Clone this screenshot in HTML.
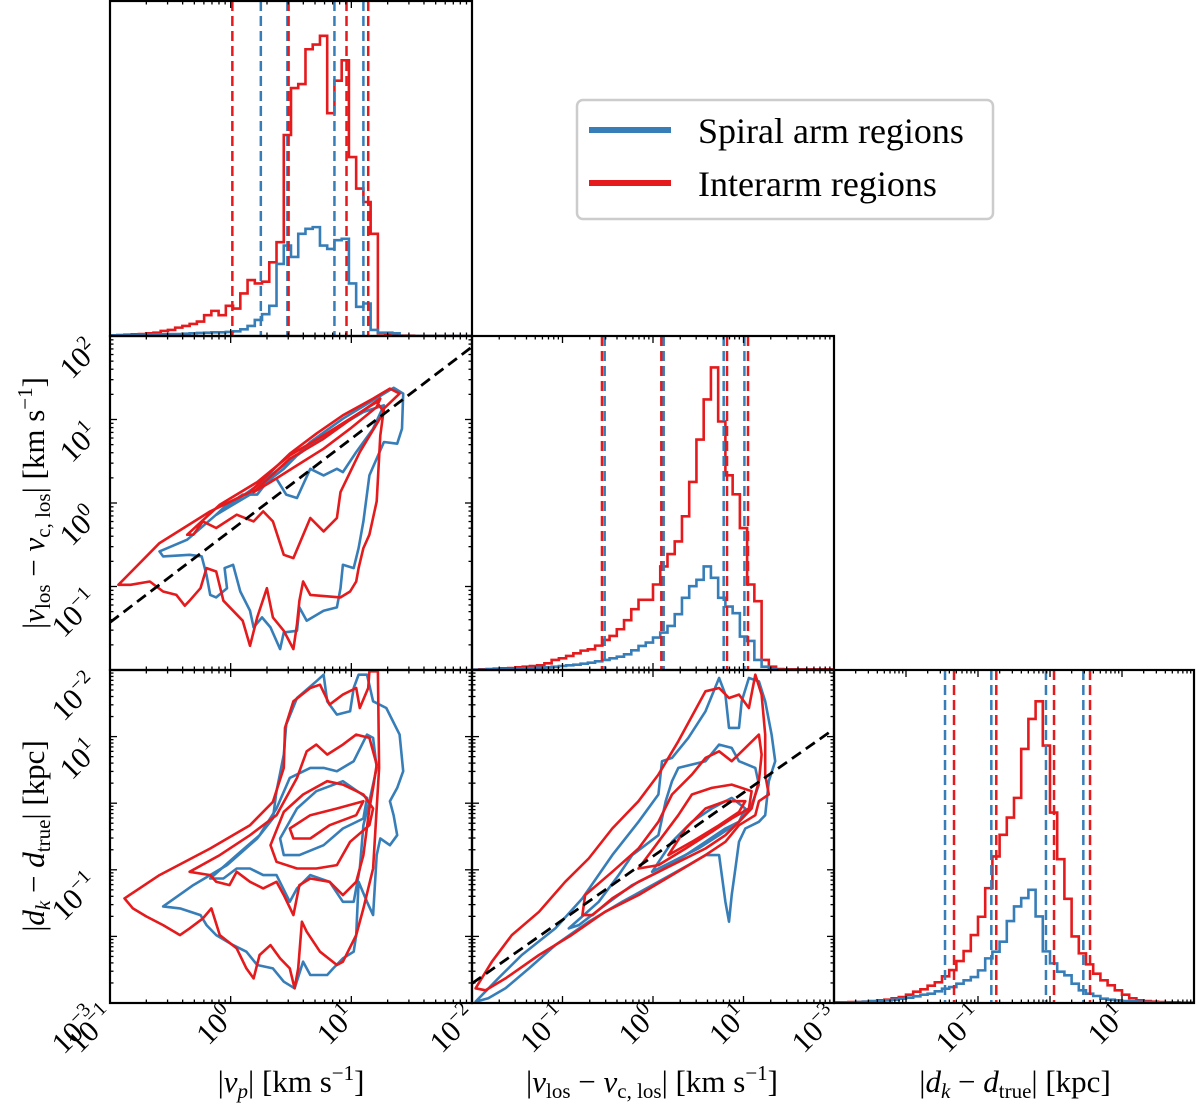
<!DOCTYPE html>
<html><head><meta charset="utf-8">
<style>
html,body{margin:0;padding:0;background:#fff;}
svg{display:block;font-family:"Liberation Serif",serif;}
svg text{font-family:"Liberation Serif",serif;}
</style></head>
<body>
<svg id="chart" width="1200" height="1106" viewBox="0 0 1200 1106" xmlns="http://www.w3.org/2000/svg" font-family="Liberation Serif, serif">
<g id="layer"></g>
<g>
  <rect x="577" y="100" width="416" height="119" rx="6" fill="#fff" stroke="#cccccc" stroke-width="2.5"/>
  <line x1="589" y1="130" x2="671" y2="130" stroke="#377eb8" stroke-width="6"/>
  <text x="698" y="143" font-size="36">Spiral arm regions</text>
  <line x1="589" y1="183" x2="671" y2="183" stroke="#e41a1c" stroke-width="6"/>
  <text x="698" y="196" font-size="36">Interarm regions</text>
</g>
<text x="291" y="1092" font-size="31" text-anchor="middle">|<tspan font-style="italic">v</tspan><tspan font-style="italic" font-size="21" dy="6">p</tspan><tspan dy="-6">| [km s</tspan><tspan font-size="21" dy="-12">−1</tspan><tspan dy="12">]</tspan></text>
<text x="652" y="1092" font-size="31" text-anchor="middle">|<tspan font-style="italic">v</tspan><tspan font-size="21" dy="6">los</tspan><tspan dy="-6"> − </tspan><tspan font-style="italic">v</tspan><tspan font-size="21" dy="6">c, los</tspan><tspan dy="-6">| [km s</tspan><tspan font-size="21" dy="-12">−1</tspan><tspan dy="12">]</tspan></text>
<text x="1015" y="1092" font-size="31" text-anchor="middle">|<tspan font-style="italic">d</tspan><tspan font-style="italic" font-size="21" dy="6">k</tspan><tspan dy="-6"> − </tspan><tspan font-style="italic">d</tspan><tspan font-size="21" dy="6">true</tspan><tspan dy="-6">| [kpc]</tspan></text>
<text transform="translate(44,503) rotate(-90)" font-size="31" text-anchor="middle">|<tspan font-style="italic">v</tspan><tspan font-size="21" dy="6">los</tspan><tspan dy="-6"> − </tspan><tspan font-style="italic">v</tspan><tspan font-size="21" dy="6">c, los</tspan><tspan dy="-6">| [km s</tspan><tspan font-size="21" dy="-12">−1</tspan><tspan dy="12">]</tspan></text>
<text transform="translate(44,836) rotate(-90)" font-size="31" text-anchor="middle">|<tspan font-style="italic">d</tspan><tspan font-style="italic" font-size="21" dy="6">k</tspan><tspan dy="-6"> − </tspan><tspan font-style="italic">d</tspan><tspan font-size="21" dy="6">true</tspan><tspan dy="-6">| [kpc]</tspan></text>
</svg>
<script>
const RED = "#e41a1c", BLUE = "#377eb8";
// ---------- histogram data (log-binned, normalised heights) ----------
const vpBinStart = -1, vpBinWidth = 0.06;
const vpRed = [0.002,0.003,0.004,0.005,0.006,0.008,0.010,0.015,0.018,0.025,0.03,0.036,0.043,0.062,0.075,0.062,0.09,0.082,0.127,0.167,0.157,0.162,0.22,0.28,0.6,0.74,0.752,0.856,0.87,0.896,0.665,0.762,0.823,0.534,0.44,0.4,0.305,0.008,0.004,0.002,0.001,0.001,0,0,0,0,0,0,0,0];
const vpBlue = [0.002,0.002,0.003,0.003,0.004,0.004,0.005,0.005,0.006,0.006,0.007,0.008,0.009,0.01,0.011,0.011,0.012,0.014,0.02,0.03,0.048,0.065,0.09,0.215,0.27,0.236,0.305,0.32,0.325,0.27,0.26,0.286,0.29,0.157,0.087,0.097,0.018,0.01,0.01,0.008,0,0,0,0,0,0,0,0,0,0];
const vpRedQ = [0.014,0.48,0.96,1.14];
const vpBlueQ = [0.25,0.47,0.86,1.10];

const vlBinStart = -2, vlBinWidth = 0.08;
const vlRed = [0.001,0.002,0.003,0.004,0.005,0.006,0.008,0.01,0.012,0.014,0.02,0.03,0.035,0.042,0.05,0.058,0.062,0.073,0.09,0.102,0.122,0.149,0.182,0.21,0.21,0.256,0.31,0.347,0.385,0.46,0.563,0.69,0.81,0.906,0.744,0.583,0.526,0.425,0.256,0.206,0.03,0.01,0.003,0.002,0.002,0.002,0.002,0.002,0.002,0.002];
const vlBlue = [0.001,0.001,0.002,0.002,0.003,0.003,0.004,0.005,0.006,0.007,0.008,0.01,0.012,0.014,0.016,0.019,0.022,0.026,0.03,0.035,0.04,0.047,0.059,0.072,0.082,0.097,0.112,0.132,0.167,0.216,0.251,0.27,0.31,0.276,0.216,0.19,0.17,0.1,0.087,0.03,0.01,0.003,0,0,0,0,0,0,0,0];
const vlRedQ = [-0.564,0.092,0.818,1.05];
const vlBlueQ = [-0.534,0.118,0.781,1.01];

const dkBinStart = -3, dkBinWidth = 0.1;
const dkRed = [0.002,0.002,0.003,0.003,0.004,0.006,0.008,0.01,0.014,0.018,0.025,0.034,0.041,0.052,0.062,0.08,0.099,0.126,0.156,0.204,0.259,0.345,0.44,0.505,0.557,0.616,0.763,0.853,0.906,0.773,0.572,0.432,0.313,0.2,0.149,0.116,0.088,0.068,0.053,0.038,0.025,0.014,0.008,0.006,0.004,0.003,0.002,0.002,0.001,0.001];
const dkBlue = [0.001,0.002,0.002,0.003,0.004,0.005,0.006,0.008,0.01,0.013,0.016,0.02,0.025,0.028,0.035,0.043,0.048,0.058,0.068,0.078,0.098,0.134,0.154,0.184,0.246,0.29,0.315,0.34,0.26,0.155,0.119,0.094,0.083,0.058,0.038,0.028,0.021,0.013,0.01,0.008,0.006,0.005,0.004,0.003,0.002,0.002,0.001,0.001,0.001,0.001];
const dkRedQ = [-1.333,-0.746,0.056,0.556];
const dkBlueQ = [-1.458,-0.815,-0.056,0.463];

// ---------- contour data: [log10 x, log10 y] ----------
const mlRed = [
 [[-0.93,-0.98],[-0.59,-0.48],[-0.17,-0.10],[0.16,0.13],[0.49,0.59],[0.71,0.83],[0.93,1.05],[1.18,1.25],[1.32,1.37],[1.40,1.31],[1.27,1.13],[1.24,0.81],[1.21,0.02],[1.15,-0.38],[1.10,-0.54],[1.06,-0.78],[1.04,-0.94],[0.99,-1.06],[0.91,-1.13],[0.66,-1.10],[0.60,-0.94],[0.57,-1.17],[0.55,-1.45],[0.52,-1.75],[0.44,-1.53],[0.35,-1.37],[0.30,-1.02],[0.22,-1.37],[0.16,-1.71],[0.10,-1.41],[-0.06,-1.17],[-0.12,-0.82],[-0.20,-0.78],[-0.25,-1.02],[-0.34,-1.17],[-0.38,-1.23],[-0.45,-1.10],[-0.56,-1.06],[-0.67,-0.94],[-0.83,-0.98]],
 [[-0.36,-0.38],[-0.09,-0.02],[0.22,0.25],[0.49,0.57],[0.77,0.81],[0.99,1.01],[1.21,1.21],[1.27,1.09],[1.07,0.61],[0.91,0.13],[0.88,-0.18],[0.77,-0.34],[0.66,-0.18],[0.52,-0.66],[0.44,-0.62],[0.35,-0.22],[0.27,-0.10],[0.19,-0.22],[0.05,-0.14],[-0.12,-0.30],[-0.23,-0.22],[-0.31,-0.38]],
 [[0.19,0.13],[0.49,0.53],[0.77,0.77],[1.04,1.05],[1.24,1.25],[1.21,1.15],[0.99,0.89],[0.77,0.65],[0.55,0.45],[0.33,0.25]]
];
const mlBlue = [
 [[-0.59,-0.58],[-0.36,-0.44],[-0.12,-0.14],[0.16,0.10],[0.44,0.41],[0.66,0.73],[0.93,1.01],[1.18,1.23],[1.35,1.38],[1.43,1.31],[1.42,0.89],[1.38,0.71],[1.27,0.73],[1.15,0.33],[1.10,-0.22],[1.06,-0.54],[1.02,-0.78],[0.93,-0.74],[0.91,-1.02],[0.88,-1.25],[0.77,-1.29],[0.63,-1.41],[0.57,-1.25],[0.55,-1.53],[0.44,-1.55],[0.41,-1.75],[0.33,-1.49],[0.26,-1.37],[0.19,-1.49],[0.16,-1.29],[0.08,-1.06],[0.02,-0.74],[-0.05,-0.78],[-0.03,-1.02],[-0.12,-1.13],[-0.17,-1.10],[-0.20,-0.86],[-0.24,-0.64],[-0.34,-0.62],[-0.56,-0.64]],
 [[-0.12,-0.14],[0.22,0.21],[0.55,0.57],[0.82,0.85],[1.10,1.09],[1.27,1.17],[1.18,0.89],[1.04,0.61],[0.93,0.37],[0.88,0.41],[0.77,0.33],[0.66,0.41],[0.55,0.06],[0.46,0.10],[0.38,0.29],[0.30,0.25],[0.22,0.10],[0.10,0.10],[-0.06,-0.06]]
];
const blRed = [
 [[-0.88,-1.43],[-0.59,-1.08],[-0.17,-0.68],[0.16,-0.33],[0.35,0.02],[0.44,0.53],[0.45,1.13],[0.52,1.53],[0.66,1.73],[0.74,1.78],[0.82,1.48],[0.93,1.63],[1.04,1.73],[1.07,1.43],[1.14,1.73],[1.15,1.98],[1.22,1.98],[1.23,0.53],[1.18,-0.98],[1.10,-1.58],[1.04,-1.98],[0.93,-2.38],[0.88,-2.43],[0.74,-2.23],[0.63,-1.93],[0.59,-1.78],[0.56,-2.48],[0.53,-2.78],[0.49,-2.48],[0.41,-2.33],[0.33,-2.13],[0.24,-2.28],[0.19,-2.63],[0.13,-2.48],[0.05,-2.18],[-0.09,-1.98],[-0.16,-1.58],[-0.23,-1.73],[-0.34,-1.88],[-0.42,-1.98],[-0.56,-1.83],[-0.70,-1.70],[-0.81,-1.58]],
 [[-0.34,-1.03],[-0.09,-0.78],[0.16,-0.48],[0.38,-0.18],[0.55,0.38],[0.63,0.78],[0.71,0.88],[0.80,0.73],[0.93,0.88],[1.04,1.03],[1.15,0.98],[1.21,0.58],[1.18,0.23],[1.15,-0.08],[1.10,-0.78],[1.04,-1.18],[0.93,-1.38],[0.82,-1.18],[0.66,-1.13],[0.57,-1.23],[0.52,-1.68],[0.44,-1.38],[0.38,-1.18],[0.27,-1.28],[0.16,-1.18],[0.05,-1.03],[-0.01,-1.23],[-0.12,-1.18],[-0.17,-1.08]],
 [[0.33,-0.63],[0.44,-0.13],[0.60,0.13],[0.80,0.33],[0.93,0.28],[1.10,0.13],[1.18,-0.08],[1.15,-0.33],[0.99,-0.58],[0.88,-0.93],[0.71,-0.98],[0.55,-0.98],[0.38,-0.88]],
 [[0.49,-0.38],[0.66,-0.18],[0.88,-0.08],[1.10,0.03],[1.04,-0.18],[0.82,-0.33],[0.66,-0.53],[0.52,-0.53]]
];
const blBlue = [
 [[-0.56,-1.55],[-0.31,-1.23],[-0.03,-0.93],[0.22,-0.53],[0.35,-0.23],[0.38,0.18],[0.44,0.73],[0.46,1.18],[0.55,1.58],[0.71,1.83],[0.77,1.93],[0.80,1.53],[0.88,1.33],[0.99,1.38],[1.02,1.73],[1.06,1.93],[1.13,1.93],[1.18,1.53],[1.29,1.43],[1.40,1.03],[1.43,0.48],[1.38,0.23],[1.32,0.03],[1.35,-0.18],[1.38,-0.48],[1.32,-0.63],[1.24,-0.53],[1.21,-0.78],[1.18,-1.68],[1.13,-1.48],[1.06,-1.18],[1.04,-1.98],[1.02,-2.23],[0.93,-2.33],[0.85,-2.48],[0.80,-2.58],[0.66,-2.58],[0.60,-2.38],[0.53,-2.78],[0.44,-2.68],[0.35,-2.48],[0.22,-2.43],[0.13,-2.23],[0.02,-2.13],[-0.12,-1.98],[-0.20,-1.83],[-0.25,-1.68],[-0.42,-1.58]],
 [[-0.17,-1.13],[0.05,-0.78],[0.24,-0.48],[0.38,-0.08],[0.49,0.38],[0.66,0.53],[0.77,0.53],[0.88,0.48],[1.02,0.63],[1.13,1.03],[1.18,0.98],[1.21,0.53],[1.15,0.03],[1.10,-0.33],[1.07,-0.98],[1.02,-1.48],[0.93,-1.48],[0.82,-1.18],[0.66,-1.08],[0.55,-1.28],[0.49,-1.48],[0.38,-1.08],[0.27,-1.08],[0.16,-0.98],[0.05,-0.98],[-0.06,-1.13]],
 [[0.41,-0.53],[0.55,-0.08],[0.71,0.18],[0.93,0.33],[1.13,0.08],[1.10,-0.23],[0.93,-0.38],[0.77,-0.63],[0.57,-0.78],[0.44,-0.78]]
];
const bcRed = [
 [[-1.96,-2.78],[-1.78,-2.38],[-1.56,-1.98],[-1.26,-1.63],[-0.97,-1.18],[-0.71,-0.83],[-0.45,-0.38],[-0.16,0.03],[0.06,0.43],[0.28,0.93],[0.58,1.68],[0.73,1.73],[0.84,1.58],[0.95,1.63],[1.06,1.43],[1.13,1.93],[1.20,1.63],[1.24,1.03],[1.24,0.43],[1.28,0.13],[1.17,0.03],[1.13,-0.18],[0.95,-0.33],[0.80,-0.58],[0.58,-0.78],[0.21,-1.08],[-0.16,-1.38],[-0.53,-1.63],[-0.90,-1.98],[-1.26,-2.28],[-1.63,-2.63],[-1.85,-2.81]],
 [[-0.78,-1.68],[-0.75,-1.38],[-0.45,-1.03],[-0.16,-0.68],[0.06,-0.28],[0.21,0.13],[0.43,0.43],[0.58,0.68],[0.73,0.78],[0.87,0.63],[1.02,0.83],[1.17,1.03],[1.20,0.73],[1.17,0.33],[1.09,-0.08],[0.95,-0.28],[0.80,-0.48],[0.58,-0.68],[0.21,-0.93],[-0.16,-1.18],[-0.45,-1.43],[-0.67,-1.68]],
 [[-0.16,-0.98],[0.06,-0.58],[0.28,-0.18],[0.43,0.13],[0.65,0.23],[0.87,0.28],[1.09,0.18],[1.06,-0.08],[0.87,-0.23],[0.65,-0.43],[0.36,-0.68],[0.06,-0.93]],
 [[0.17,-0.78],[0.36,-0.38],[0.58,-0.08],[0.80,0.03],[1.02,0.03],[0.95,-0.13],[0.73,-0.33],[0.43,-0.58]]
];
const bcBlue = [
 [[-1.96,-2.98],[-1.71,-2.63],[-1.45,-2.28],[-1.08,-1.88],[-0.78,-1.43],[-0.45,-0.78],[-0.16,-0.28],[0.06,0.13],[0.10,0.63],[0.21,0.68],[0.39,0.98],[0.58,1.38],[0.73,1.88],[0.80,1.63],[0.84,1.13],[0.95,1.13],[0.98,1.53],[1.06,1.88],[1.17,1.83],[1.24,1.53],[1.31,1.03],[1.35,0.63],[1.28,0.33],[1.24,-0.18],[1.17,-0.28],[1.02,-0.38],[0.95,-0.58],[0.91,-0.98],[0.87,-1.38],[0.84,-1.78],[0.80,-1.48],[0.76,-1.08],[0.73,-0.78],[0.58,-0.78],[0.39,-0.93],[0.06,-1.18],[-0.34,-1.48],[-0.71,-1.78],[-1.08,-2.13],[-1.37,-2.48],[-1.63,-2.78],[-1.82,-2.93]],
 [[-0.93,-1.88],[-0.60,-1.48],[-0.38,-1.08],[-0.23,-0.78],[0.06,-0.48],[0.14,0.03],[0.21,0.33],[0.28,0.53],[0.58,0.63],[0.73,0.88],[0.87,0.83],[0.95,0.63],[1.13,0.53],[1.17,0.28],[1.09,-0.03],[0.95,-0.28],[0.80,-0.38],[0.58,-0.58],[0.36,-0.78],[0.06,-1.03],[-0.23,-1.23],[-0.53,-1.53],[-0.82,-1.83]],
 [[-0.01,-1.03],[0.21,-0.58],[0.43,-0.28],[0.65,-0.08],[0.87,0.08],[1.02,-0.08],[0.95,-0.28],[0.73,-0.48],[0.50,-0.68],[0.21,-0.88]]
];
// reference lines: log y = slope * log x + intercept
const mlLine = [1.1, -0.33];
const bcLine = [0.955, -0.797];

// tick label exponents
const xTicksVp = [-1, 0, 1];
const xTicksVl = [-2, -1, 0, 1];
const xTicksDk = [-3, -1, 1];
const yTicksMl = [2, 1, 0, -1, -2];
const yTicksBl = [1, -1, -3];

// ---------- rendering ----------
const NS = "http://www.w3.org/2000/svg";
const layer = document.getElementById("layer");
function mk(tag, attrs, parent) {
  const e = document.createElementNS(NS, tag);
  for (const k in attrs) e.setAttribute(k, attrs[k]);
  (parent || layer).appendChild(e);
  return e;
}
function axis(d0, d1, p0, p1) { return v => p0 + (v - d0) / (d1 - d0) * (p1 - p0); }

const colVp = [110, 472, -1, 2], colVl = [472, 834, -2, 2], colDk = [834, 1194, -3, 2];
const rowTop = [1, 336], rowMid = [336, 670], rowBot = [670, 1003];

function panel(name, col, row, yr) {
  const g = mk("g", {});
  
  
  const P = { g, x0: col[0], x1: col[1], y0: row[0], y1: row[1],
    sx: axis(col[2], col[3], col[0], col[1]) };
  if (yr) P.sy = axis(yr[0], yr[1], row[0], row[1]);
  return P;
}
function invx(P, px) { return (px - P.sx(0)) / (P.sx(1) - P.sx(0)); }
function frame(P, yr) {
  const g = P.g;
  const tk = mk("g", { stroke: "#000", "stroke-width": 1.3 }, g);
  
  
  const dmin = Math.floor(invx(P, P.x0)), dmax = Math.ceil(invx(P, P.x1));
  for (let d = dmin; d <= dmax; d++) for (let m = 1; m < 10; m++) {
    const v = d + Math.log10(m), x = P.sx(v);
    if (x < P.x0 + 0.5 || x > P.x1 - 0.5) continue;
    const L = m === 1 ? 7 : 3.5;
    mk("line", { x1: x, x2: x, y1: P.y1, y2: P.y1 - L }, tk);
    mk("line", { x1: x, x2: x, y1: P.y0, y2: P.y0 + L }, tk);
  }
  if (yr) {
    for (let d = yr[1]; d <= yr[0]; d++) for (let m = 1; m < 10; m++) {
      const v = d + Math.log10(m), y = P.sy(v);
      if (y > P.y1 - 0.5 || y < P.y0 + 0.5) continue;
      const L = m === 1 ? 7 : 3.5;
      mk("line", { x1: P.x0, x2: P.x0 + L, y1: y, y2: y }, tk);
      mk("line", { x1: P.x1, x2: P.x1 - L, y1: y, y2: y }, tk);
    }
  }
  const r = mk("rect", { x: P.x0, y: P.y0, width: P.x1 - P.x0, height: P.y1 - P.y0, fill: "none", stroke: "#000", "stroke-width": 2.2 }, g);
  
  
}

function hist(P, start, w, vals, color, name) {
  const H = P.y1 - P.y0;
  const base = P.y1;
  let d = "M" + P.sx(start) + "," + base;
  vals.forEach((v, i) => {
    const xa = P.sx(start + i * w), xb = P.sx(start + (i + 1) * w);
    const y = base - v * H;
    d += " L" + xa + "," + y + " L" + xb + "," + y;
  });
  d += " L" + P.sx(start + vals.length * w) + "," + base;
  const p = mk("path", { d, fill: "none", stroke: color, "stroke-width": 2.6 }, P.g);
  
  
}
function qlines(P, qs, color, name) {
  qs.forEach(q => {
    const x = P.sx(q);
    const l = mk("line", { x1: x, x2: x, y1: P.y0, y2: P.y1, stroke: color, "stroke-width": 2.5, "stroke-dasharray": "10,5" }, P.g);
    
    
  });
}
function contours(P, polys, color, name) {
  polys.forEach(poly => {
    const d = poly.map((pt, i) => (i ? "L" : "M") + P.sx(pt[0]).toFixed(1) + "," + P.sy(pt[1]).toFixed(1)).join(" ") + " Z";
    const p = mk("path", { d, fill: "none", stroke: color, "stroke-width": 2.6, "stroke-linejoin": "round" }, P.g);
    
    
  });
}
function refline(P, ab, xr) {
  const x0 = xr[0], x1 = xr[1];
  const l = mk("line", { x1: P.sx(x0), y1: P.sy(ab[0] * x0 + ab[1]), x2: P.sx(x1), y2: P.sy(ab[0] * x1 + ab[1]), stroke: "#000", "stroke-width": 2.8, "stroke-dasharray": "11,6" }, P.g);
  
  
}
function clip(P, id) {
  const cp = mk("clipPath", { id });
  mk("rect", { x: P.x0, y: P.y0, width: P.x1 - P.x0, height: P.y1 - P.y0 }, cp);
  P.g.setAttribute("clip-path", "url(#" + id + ")");
}
function lab(x, y, e, name) {
  const t = mk("text", { x, y, "font-size": 30, "text-anchor": "end", "font-family": "Liberation Serif, serif", transform: "rotate(-45 " + x + " " + y + ")" });
  
  
  const a = document.createElementNS(NS, "tspan"); a.textContent = "10"; t.appendChild(a);
  const b = document.createElementNS(NS, "tspan");
  b.setAttribute("font-size", "20"); b.setAttribute("dy", "-12");
  b.textContent = e < 0 ? "−" + (-e) : String(e); t.appendChild(b);
}

// Top-left histogram
const TL = panel("hist-vp", colVp, rowTop);
clip(TL, "c1");
hist(TL, vpBinStart, vpBinWidth, vpRed, RED, "hist-vp-interarm");
hist(TL, vpBinStart, vpBinWidth, vpBlue, BLUE, "hist-vp-spiral");
qlines(TL, vpBlueQ, BLUE, "quantile-vp-spiral");
qlines(TL, vpRedQ, RED, "quantile-vp-interarm");
const TLf = panel("hist-vp-frame", colVp, rowTop); frame(TLf);

// Middle-left contours
const ML = panel("contour-vp-vlos", colVp, rowMid, [2, -2]);
clip(ML, "c2");
contours(ML, mlBlue, BLUE, "contour-spiral");
contours(ML, mlRed, RED, "contour-interarm");
refline(ML, mlLine, [-1, 2]);
const MLf = panel("contour-vp-vlos-frame", colVp, rowMid, [2, -2]); frame(MLf, [2, -2]);

// Middle-center histogram
const MC = panel("hist-vlos", colVl, rowMid);
clip(MC, "c3");
hist(MC, vlBinStart, vlBinWidth, vlRed, RED, "hist-vlos-interarm");
hist(MC, vlBinStart, vlBinWidth, vlBlue, BLUE, "hist-vlos-spiral");
qlines(MC, vlRedQ, RED, "quantile-vlos-interarm");
qlines(MC, vlBlueQ, BLUE, "quantile-vlos-spiral");
const MCf = panel("hist-vlos-frame", colVl, rowMid); frame(MCf);

// Bottom-left
const BL = panel("contour-vp-dk", colVp, rowBot, [2, -3]);
clip(BL, "c4");
contours(BL, blBlue, BLUE, "contour-spiral");
contours(BL, blRed, RED, "contour-interarm");
const BLf = panel("contour-vp-dk-frame", colVp, rowBot, [2, -3]); frame(BLf, [2, -3]);

// Bottom-center
const BC = panel("contour-vlos-dk", colVl, rowBot, [2, -3]);
clip(BC, "c5");
contours(BC, bcBlue, BLUE, "contour-spiral");
contours(BC, bcRed, RED, "contour-interarm");
refline(BC, bcLine, [-2, 2]);
const BCf = panel("contour-vlos-dk-frame", colVl, rowBot, [2, -3]); frame(BCf, [2, -3]);

// Bottom-right histogram
const BR = panel("hist-dk", colDk, rowBot);
clip(BR, "c6");
hist(BR, dkBinStart, dkBinWidth, dkRed, RED, "hist-dk-interarm");
hist(BR, dkBinStart, dkBinWidth, dkBlue, BLUE, "hist-dk-spiral");
qlines(BR, dkBlueQ, BLUE, "quantile-dk-spiral");
qlines(BR, dkRedQ, RED, "quantile-dk-interarm");
const BRf = panel("hist-dk-frame", colDk, rowBot); frame(BRf);

// tick labels
xTicksVp.forEach(e => lab(TL.sx(e) + 6, 1018, e, "x-tick-label"));
xTicksVl.forEach(e => lab(MC.sx(e) + 6, 1018, e, "x-tick-label"));
xTicksDk.forEach(e => lab(BR.sx(e) + 6, 1018, e, "x-tick-label"));
yTicksMl.forEach(e => lab(100, ML.sy(e) + 16, e, "y-tick-label"));
yTicksBl.forEach(e => lab(100, BL.sy(e) + 16, e, "y-tick-label"));
</script>
</body></html>
